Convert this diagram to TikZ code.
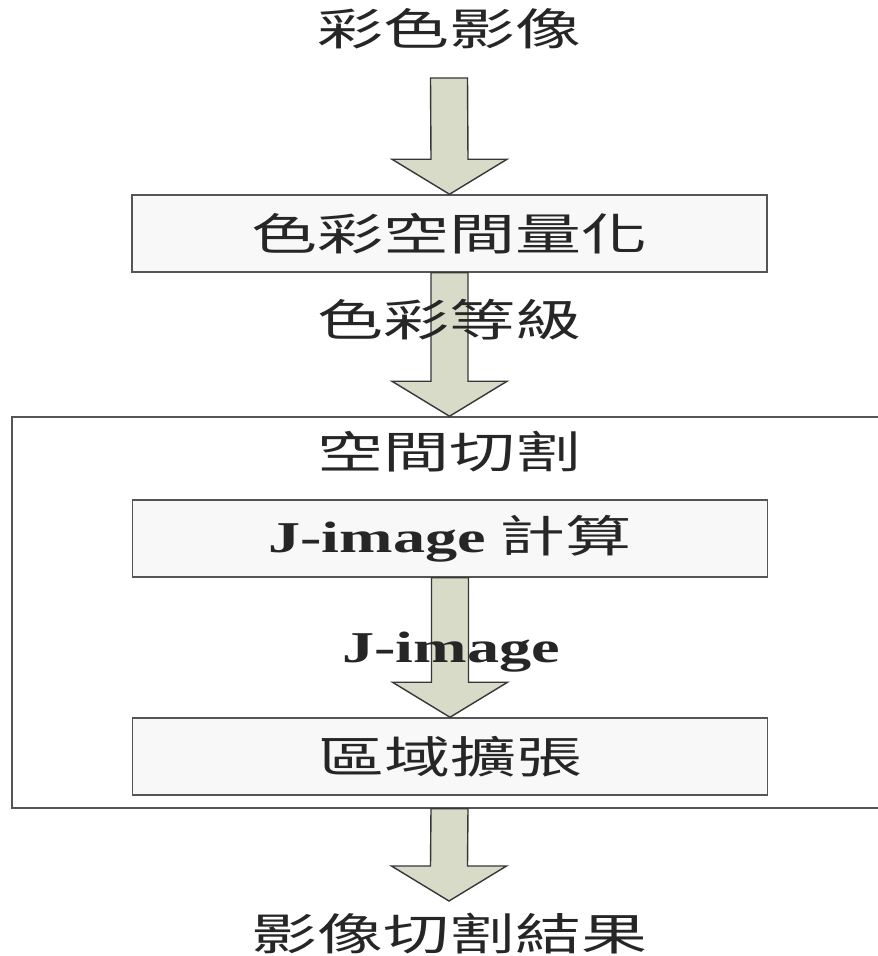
\documentclass[tikz,border=0pt]{standalone}
\usepackage{graphicx}
\usepackage{fontspec}
\setmainfont{Liberation Serif}
\newfontfamily\cjk{Noto Sans CJK TC}
\usetikzlibrary{calc}
\definecolor{arrowfill}{RGB}{216,219,199}
\definecolor{arrowline}{RGB}{55,55,55}
\definecolor{boxfill}{RGB}{248,248,248}
\definecolor{boxline}{RGB}{85,85,85}
\newcommand\blockarrow[2]{%
  \draw[barrow] ($(#1)+(-18.5,0)$) -- ($(#2)+(-18.5,-35)$) -- ($(#2)+(-57.5,-35)$)
    -- (#2) -- ($(#2)+(57.5,-35)$) -- ($(#2)+(18.5,-35)$) -- ($(#1)+(18.5,0)$) -- cycle;}
\newcommand\cjkt[1]{\scalebox{1.5}[1]{#1}}
\tikzset{
  x=1pt, y=-1pt,
  barrow/.style={fill=arrowfill, draw=arrowline, line width=1.4pt, line join=miter},
  procbox/.style={draw=boxline, fill=boxfill, line width=1.5pt, minimum width=635pt,
    minimum height=77pt, inner sep=0pt},
  outerbox/.style={draw=boxline, fill=white, line width=1.5pt, minimum width=890pt,
    minimum height=391pt, inner sep=0pt},
  cjklabel/.style={font=\cjk\fontsize{44}{50}\selectfont, text=black!85, inner sep=0pt},
  latlabel/.style={font=\bfseries\fontsize{44}{50}\selectfont, text=black!85, inner sep=0pt},
}
\begin{document}
\begin{tikzpicture}
\useasboundingbox (0,0) rectangle (878,956);
\clip (0,0) rectangle (878,956);
\fill[white] (0,0) rectangle (878,956);

\node[cjklabel] (src) at (449,29) {\cjkt{彩色影像}};
\coordinate (a1s) at (449,78);

\node[procbox, cjklabel, draw=boxline, fill=boxfill] (quant) at (449.5,233.5) {\cjkt{色彩空間量化}};

\node[outerbox] (seg) at (457,612.5) {};
\node[cjklabel] (segt) at (449,452) {\cjkt{空間切割}};

\node[procbox, font=\fontsize{44}{50}\selectfont, text=black!85] (jcalc) at (450,538.5)
  {\scalebox{1.46}[1]{\bfseries J-image}\hspace{14pt}{\cjk\cjkt{計算}}};
\node[procbox, cjklabel, draw=boxline, fill=boxfill] (grow) at (450,756.5) {\cjkt{區域擴張}};

\coordinate (a4e) at (449,901);

\blockarrow{a1s}{quant.north}
\blockarrow{quant.south}{quant.south |- seg.north}
\blockarrow{jcalc.south}{grow.north}
\blockarrow{quant.south |- seg.south}{a4e}

\node[cjklabel] (lev) at (449,320) {\cjkt{色彩等級}};
\node[latlabel, anchor=base] (jimg) at (451,662) {\scalebox{1.46}[1]{J-image}};
\node[cjklabel] (res) at (449,934) {\cjkt{影像切割結果}};
\end{tikzpicture}
\end{document}
